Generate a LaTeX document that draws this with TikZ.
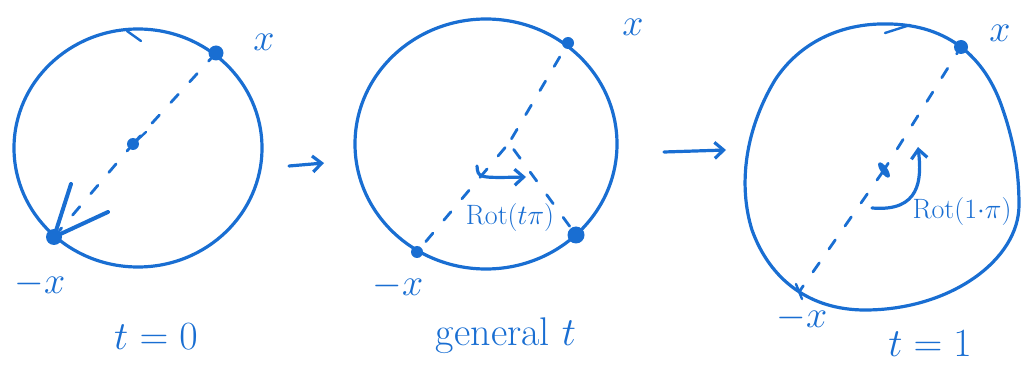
\RequirePackage{fix-cm}
\documentclass[tikz,border=0pt]{standalone}
\usetikzlibrary{arrows.meta}
\definecolor{ink}{RGB}{25,110,210}
\begin{document}
\begin{tikzpicture}[x=1pt,y=-1pt, line cap=round, line join=round,
  pen/.style={draw=ink, line width=3.2pt},
  thin pen/.style={draw=ink, line width=2.4pt},
  dashline/.style={draw=ink, line width=2.8pt, dash pattern=on 11pt off 17pt},
  dot/.style={circle, fill=ink, inner sep=0pt, minimum size=#1},
  lab/.style={text=ink, inner sep=0pt, font=\fontsize{40}{40}\selectfont},
  biglab/.style={text=ink, inner sep=0pt, font=\fontsize{38}{38}\selectfont},
  rotlab/.style={text=ink, inner sep=0pt, font=\fontsize{28}{28}\selectfont},
  arr/.style={pen, -{Straight Barb[length=9pt,width=16pt]}}
]
\useasboundingbox (0,0) rectangle (1029,382);

% ---------------- circle 1 (t = 0) ----------------
\draw[pen] (138,148) ellipse [x radius=124, y radius=119];
\draw[thin pen] (127,31) -- (141,41);
\node[dot=12pt] (c1) at (133,144) {};
\node[dot=15pt] (x1) at (216,53) {};
\node[dot=16pt] (m1) at (54,237) {};
\draw[thin pen] (c1.center) -- (146,132);
\draw[dashline, dash phase=-22pt] (c1) -- (x1);
\draw[dashline, dash phase=-20pt] (c1) -- (m1);
\draw[pen, line width=4pt] (m1.center) -- (71,184);
\draw[pen, line width=4pt] (m1.center) -- (108,212);
\node[biglab] (lx1) at (264,42) {$x$};
\node[biglab] (lm1) at (40,284) {$-x$};
\node[lab] (t1) at (156,337) {$t=0$};

% arrow 1
\coordinate (a1s) at (289,166);
\coordinate (a1e) at (324,163);
\draw[arr] (a1s) -- (a1e);

% ---------------- circle 2 (general t) ----------------
\draw[pen] (486,144) ellipse [x radius=131, y radius=125];
\node[dot=12pt] (x2) at (568,43) {};
\node[dot=12pt] (m2) at (417,252) {};
\node[dot=17pt] (r2) at (576,235) {};
\coordinate (c2) at (509,143);
\draw[dashline, dash phase=-10pt] (x2) -- (c2);
\draw[dashline, dash phase=-6pt] (c2) -- (m2);
\draw[dashline, dash phase=-8pt] (c2) -- (r2);
\draw[arr] (477,166) .. controls (478,178) .. (526,177);
\node[rotlab] (rot2) at (510,218) {$\mathrm{Rot}(t\pi)$};
\node[biglab] (lx2) at (633,27) {$x$};
\node[biglab] (lm2) at (398,286) {$-x$};
\node[lab] (t2) at (506,336) {general $t$};

% arrow 2
\coordinate (a2s) at (664,152);
\coordinate (a2e) at (726,150);
\draw[arr] (a2s) -- (a2e);

% ---------------- circle 3 (t = 1) ----------------
\draw[pen] (880,24) .. controls (945,22) and (985,55) .. (1003,110)
  .. controls (1015,145) and (1019,175) .. (1019,205)
  .. controls (1019,260) and (950,310) .. (865,310)
  .. controls (810,310) and (770,280) .. (752,230)
  .. controls (738,185) and (745,130) .. (775,80)
  .. controls (800,42) and (840,25) .. (880,24) -- cycle;
\draw[thin pen] (885,33) -- (910,25);
\draw[thin pen] (796,284) -- (802,299);
\node[dot=14pt] (x3) at (961,47) {};
\node[dot=6pt] (c3) at (884,170) {};
\fill[ink, rotate around={-55:(884,170)}] (884,170) ellipse [x radius=9pt, y radius=3.5pt];
\coordinate (m3) at (799,292);
\draw[dashline, dash phase=-18pt] (x3) -- (c3);
\draw[dashline, dash phase=-26pt] (c3) -- (m3);
\draw[arr] (872,208) .. controls (920,212) and (922,180) .. (918,147);
\node[rotlab] (rot3) at (962,212) {$\mathrm{Rot}(1{\cdot}\pi)$};
\node[biglab] (lx3) at (1000,33) {$x$};
\node[biglab] (lm3) at (802,318) {$-x$};
\node[lab] (t3) at (930,344) {$t=1$};
\end{tikzpicture}
\end{document}
